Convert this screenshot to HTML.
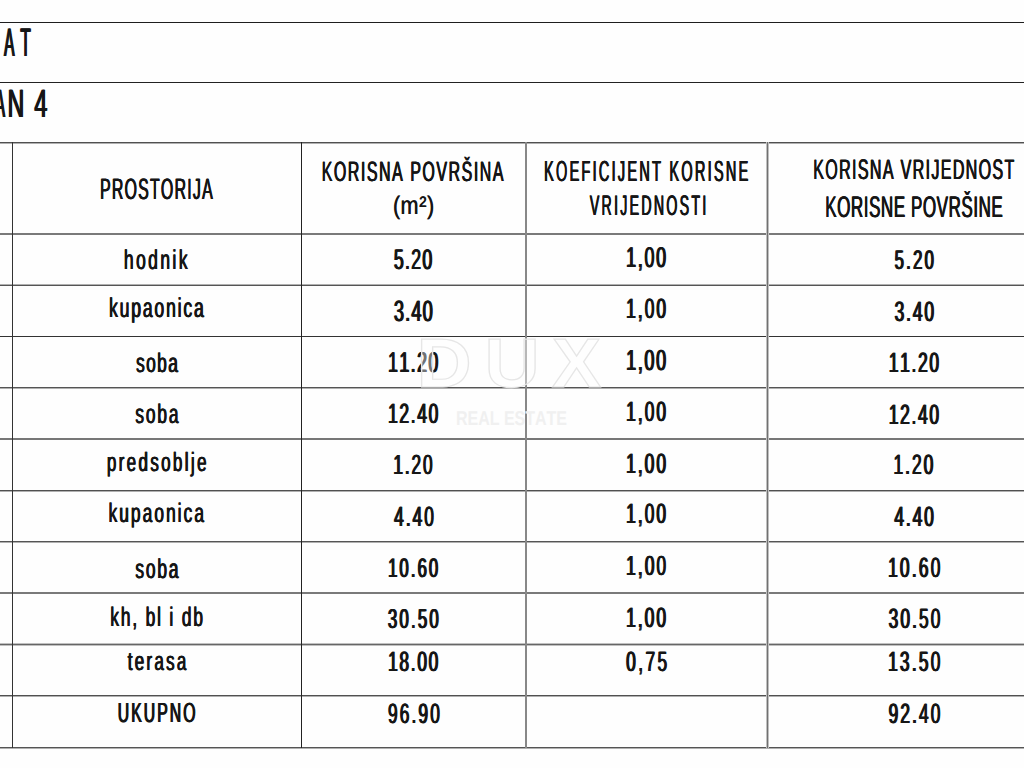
<!DOCTYPE html>
<html><head><meta charset="utf-8"><style>
html,body{margin:0;padding:0;background:#fff;width:1024px;height:768px;overflow:hidden}
svg{display:block}
text{font-family:"Liberation Sans",sans-serif;font-weight:normal;fill:#161616;font-kerning:none;text-rendering:geometricPrecision}
</style></head><body>
<svg width="1024" height="768" viewBox="0 0 1024 768">
<rect width="1024" height="768" fill="#fefefe"/>
<g shape-rendering="crispEdges"><rect x="0" y="22" width="1024" height="1" fill="#1e1e1e"/><rect x="0" y="82" width="1024" height="1" fill="#222"/><rect x="0" y="142" width="1024" height="1" fill="#505050"/><rect x="0" y="143" width="1024" height="1" fill="#b0b0b0"/><rect x="0" y="233" width="1024" height="2" fill="#7a7a7a"/><rect x="0" y="284" width="1024" height="1" fill="#b0b0b0"/><rect x="0" y="285" width="1024" height="1" fill="#555"/><rect x="0" y="336" width="1024" height="1" fill="#333"/><rect x="0" y="387" width="1024" height="1" fill="#555"/><rect x="0" y="388" width="1024" height="1" fill="#b0b0b0"/><rect x="0" y="438" width="1024" height="2" fill="#777"/><rect x="0" y="490" width="1024" height="1" fill="#505050"/><rect x="0" y="491" width="1024" height="1" fill="#b0b0b0"/><rect x="0" y="541" width="1024" height="1" fill="#555"/><rect x="0" y="542" width="1024" height="1" fill="#b0b0b0"/><rect x="0" y="592" width="1024" height="2" fill="#7a7a7a"/><rect x="0" y="643" width="1024" height="1" fill="#c0c0c0"/><rect x="0" y="644" width="1024" height="1" fill="#666"/><rect x="0" y="645" width="1024" height="1" fill="#c0c0c0"/><rect x="0" y="695" width="1024" height="1" fill="#505050"/><rect x="0" y="696" width="1024" height="1" fill="#b0b0b0"/><rect x="0" y="747" width="1024" height="1" fill="#555"/><rect x="0" y="748" width="1024" height="1" fill="#b0b0b0"/><rect x="12" y="142" width="1" height="606" fill="#333"/><rect x="301" y="142" width="1" height="606" fill="#222"/><rect x="525" y="142" width="2" height="606" fill="#888"/><rect x="766" y="142" width="1" height="606" fill="#c0c0c0"/><rect x="767" y="142" width="1" height="606" fill="#707070"/><rect x="768" y="142" width="1" height="606" fill="#c0c0c0"/></g>
<g id="g0">
<text transform="translate(392.65,214.43) scale(0.8500,1)" font-size="25.44" letter-spacing="0.617">(m²)</text>
</g>
<use href="#g0" x="0.50"/>
<g id="g1">
<text transform="translate(99.70,198.50) scale(0.5400,1)" font-size="29.32" letter-spacing="2.366">PROSTORIJA</text>
<text transform="translate(321.40,180.80) scale(0.5700,1)" font-size="27.89" letter-spacing="2.763">KORISNA POVRŠINA</text>
<text transform="translate(543.71,180.80) scale(0.5000,1)" font-size="29.03" letter-spacing="4.507">KOEFICIJENT KORISNE</text>
<text transform="translate(589.44,214.80) scale(0.5000,1)" font-size="28.32" letter-spacing="4.571">VRIJEDNOSTI</text>
<text transform="translate(812.88,178.90) scale(0.5700,1)" font-size="28.17" letter-spacing="2.346">KORISNA VRIJEDNOST</text>
<text transform="translate(824.91,217.20) scale(0.5700,1)" font-size="29.75" letter-spacing="1.033">KORISNE POVRŠINE</text>
</g>
<use href="#g1" x="0.35"/>
<use href="#g1" x="0.70"/>
<g id="g2">
<text transform="translate(123.51,268.90) scale(0.6400,1)" font-size="27.26" letter-spacing="3.812">hodnik</text>
<text transform="translate(108.63,316.80) scale(0.6400,1)" font-size="27.45" letter-spacing="2.865">kupaonica</text>
<text transform="translate(135.63,371.70) scale(0.6400,1)" font-size="27.07" letter-spacing="2.243">soba</text>
<text transform="translate(134.93,422.80) scale(0.6400,1)" font-size="27.07" letter-spacing="2.910">soba</text>
<text transform="translate(106.51,471.40) scale(0.6400,1)" font-size="26.50" letter-spacing="3.698">predsoblje</text>
<text transform="translate(108.15,522.30) scale(0.6400,1)" font-size="27.07" letter-spacing="3.214">kupaonica</text>
<text transform="translate(134.92,577.60) scale(0.6400,1)" font-size="27.26" letter-spacing="2.779">soba</text>
<text transform="translate(109.95,626.30) scale(0.6400,1)" font-size="27.07" letter-spacing="2.879">kh, bl i db</text>
<text transform="translate(127.34,670.00) scale(0.6400,1)" font-size="26.50" letter-spacing="3.572">terasa</text>
</g>
<use href="#g2" x="0.40"/>
<use href="#g2" x="0.80"/>
<g id="g3">
<text transform="translate(117.20,722.20) scale(0.5700,1)" font-size="27.60" letter-spacing="3.698">UKUPNO</text>
</g>
<use href="#g3" x="0.50"/>
<use href="#g3" x="1.00"/>
<g id="g4">
<text transform="translate(3.57,55.60) scale(0.3865,1)" font-size="39.85" letter-spacing="0.000">A</text>
<text transform="translate(19.63,55.60) scale(0.4341,1)" font-size="39.85" letter-spacing="0.000">T</text>
<text transform="translate(-5.93,116.70) scale(0.3880,1)" font-size="39.71" letter-spacing="0.000">A</text>
<text transform="translate(7.12,116.70) scale(0.5771,1)" font-size="39.71" letter-spacing="0.000">N</text>
<text transform="translate(33.86,116.70) scale(0.5847,1)" font-size="39.71" letter-spacing="0.000">4</text>
<text transform="translate(393.28,269.30) scale(0.6200,1)" font-size="28.46" letter-spacing="2.138">5.20</text>
<text transform="translate(393.29,320.90) scale(0.6200,1)" font-size="29.32" letter-spacing="1.899">3.40</text>
<text transform="translate(387.39,371.80) scale(0.6200,1)" font-size="28.75" letter-spacing="2.291">11.20</text>
<text transform="translate(387.43,422.80) scale(0.6200,1)" font-size="27.89" letter-spacing="2.812">12.40</text>
<text transform="translate(392.69,474.00) scale(0.6200,1)" font-size="27.75" letter-spacing="3.114">1.20</text>
<text transform="translate(393.59,526.20) scale(0.6200,1)" font-size="27.89" letter-spacing="3.232">4.40</text>
<text transform="translate(387.48,576.80) scale(0.6200,1)" font-size="26.89" letter-spacing="3.412">10.60</text>
<text transform="translate(387.34,627.80) scale(0.6200,1)" font-size="27.17" letter-spacing="3.485">30.50</text>
<text transform="translate(387.43,671.30) scale(0.6200,1)" font-size="27.89" letter-spacing="2.812">18.00</text>
<text transform="translate(387.39,723.40) scale(0.6200,1)" font-size="27.89" letter-spacing="3.470">96.90</text>
<text transform="translate(625.54,266.80) scale(0.6200,1)" font-size="28.75" letter-spacing="2.817">1,00</text>
<text transform="translate(625.58,318.30) scale(0.6200,1)" font-size="27.89" letter-spacing="3.350">1,00</text>
<text transform="translate(625.53,369.90) scale(0.6200,1)" font-size="29.03" letter-spacing="2.648">1,00</text>
<text transform="translate(625.58,421.20) scale(0.6200,1)" font-size="27.89" letter-spacing="3.350">1,00</text>
<text transform="translate(625.58,472.60) scale(0.6200,1)" font-size="28.03" letter-spacing="3.268">1,00</text>
<text transform="translate(625.58,523.00) scale(0.6200,1)" font-size="27.89" letter-spacing="3.350">1,00</text>
<text transform="translate(625.59,575.00) scale(0.6200,1)" font-size="27.75" letter-spacing="3.434">1,00</text>
<text transform="translate(625.58,627.20) scale(0.6200,1)" font-size="28.03" letter-spacing="3.268">1,00</text>
<text transform="translate(625.62,671.10) scale(0.6200,1)" font-size="27.89" letter-spacing="3.909">0,75</text>
<text transform="translate(894.02,269.40) scale(0.6200,1)" font-size="26.89" letter-spacing="3.643">5.20</text>
<text transform="translate(894.02,321.00) scale(0.6200,1)" font-size="28.03" letter-spacing="3.027">3.40</text>
<text transform="translate(888.18,371.70) scale(0.6200,1)" font-size="27.89" letter-spacing="2.825">11.20</text>
<text transform="translate(888.18,423.80) scale(0.6200,1)" font-size="27.89" letter-spacing="2.825">12.40</text>
<text transform="translate(892.88,474.40) scale(0.6200,1)" font-size="28.03" letter-spacing="3.268">1.20</text>
<text transform="translate(893.79,526.00) scale(0.6200,1)" font-size="28.03" letter-spacing="3.039">4.40</text>
<text transform="translate(887.43,576.70) scale(0.6200,1)" font-size="27.89" letter-spacing="3.661">10.60</text>
<text transform="translate(888.07,627.50) scale(0.6200,1)" font-size="27.89" letter-spacing="3.402">30.50</text>
<text transform="translate(887.43,670.50) scale(0.6200,1)" font-size="27.89" letter-spacing="3.661">13.50</text>
<text transform="translate(887.94,723.20) scale(0.6200,1)" font-size="27.89" letter-spacing="3.457">92.40</text>
</g>
<use href="#g4" x="0.60"/>
<use href="#g4" x="1.20"/>
<g>
<text transform="translate(416.58,386.60) scale(1.1007,1)" font-size="69.48" style="font-weight:bold;fill:#fff;fill-opacity:0.4;stroke:#e6e6e6;stroke-width:1.2">D</text>
<text transform="translate(484.40,386.60) scale(1.1015,1)" font-size="69.48" style="font-weight:bold;fill:#fff;fill-opacity:0.4;stroke:#e6e6e6;stroke-width:1.2">U</text>
<text transform="translate(551.95,386.60) scale(1.0594,1)" font-size="69.48" style="font-weight:bold;fill:#fff;fill-opacity:0.4;stroke:#e6e6e6;stroke-width:1.2">X</text>
<text x="456" y="425" font-size="20" style="font-weight:bold;fill:#f0f0f0" textLength="111" lengthAdjust="spacingAndGlyphs">REAL ESTATE</text>
</g>
</svg>
</body></html>
